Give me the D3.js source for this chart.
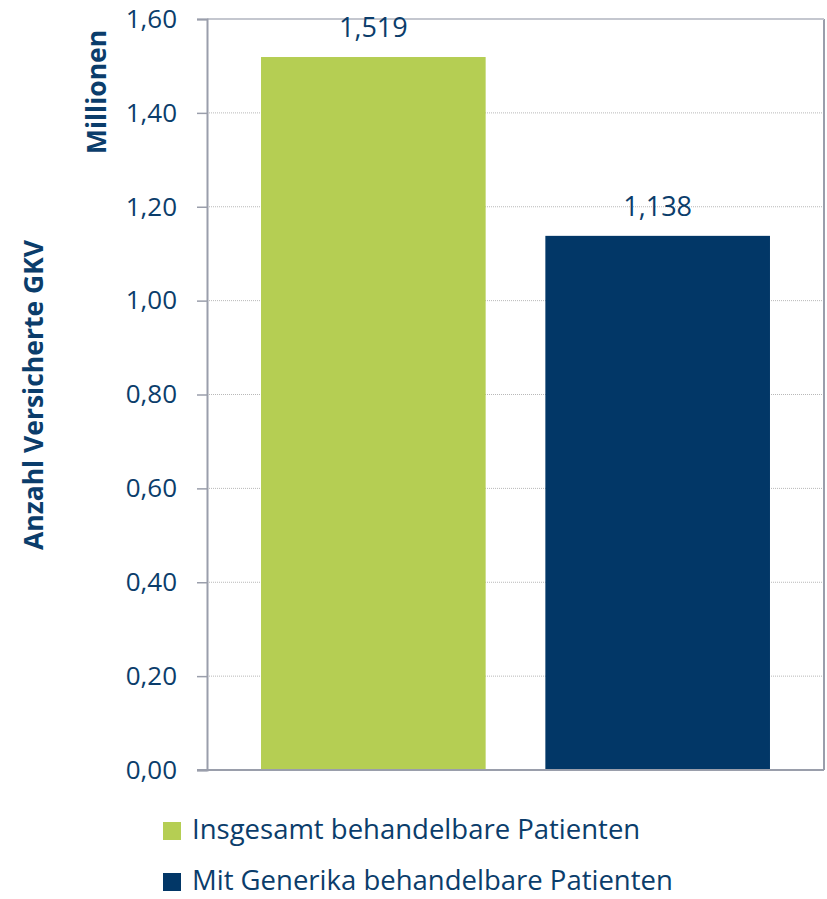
<!DOCTYPE html>
<html><head><meta charset="utf-8">
<script src="https://cdn.jsdelivr.net/npm/d3@7"></script>
<style>body{margin:0;background:#fff}svg{display:block}</style>
</head><body>
<script>
const categories = ["Insgesamt behandelbare Patienten", "Mit Generika behandelbare Patienten"];
const values = [1.519, 1.138];
const valueLabels = ["1,519", "1,138"];
const colors = ["#b5ce53", "#023767"];
const yTicks = [0, 0.2, 0.4, 0.6, 0.8, 1.0, 1.2, 1.4, 1.6];
const yTitle = "Anzahl Versicherte GKV";
const yUnit = "Millionen";

(function () {
const W = 827, H = 899;
const font = "'Open Sans', sans-serif";
const textColor = "#0b3d6b";
const svg = d3.select("body").append("svg").attr("width", W).attr("height", H);

const pL = 207, pR = 824, pT = 19, pB = 770;
const x = d3.scaleBand().domain(categories).range([pL, pR]).paddingInner(0.21).paddingOuter(0.19);
const y = d3.scaleLinear().domain([0, 1.6]).range([pB, pT]);

// gridlines
svg.append("g").selectAll("line").data(yTicks.filter(d => d > 0)).join("line")
  .attr("x1", pL).attr("x2", pR).attr("y1", d => y(d)).attr("y2", d => y(d))
  .attr("stroke", "#b8b8b8").attr("stroke-width", 1).attr("stroke-dasharray", "1,1");

// bars
svg.append("g").selectAll("rect").data(categories).join("rect")
  .attr("x", d => x(d)).attr("width", x.bandwidth())
  .attr("y", (d, i) => y(values[i])).attr("height", (d, i) => y(0) - y(values[i]))
  .attr("fill", (d, i) => colors[i]);

// frame
svg.append("line").attr("x1", pR).attr("x2", pR).attr("y1", pT).attr("y2", pB).attr("stroke", "#9a9eab").attr("stroke-width", 2);
svg.append("line").attr("x1", pL).attr("x2", pR).attr("y1", pT).attr("y2", pT).attr("stroke", "#c4c7cf").attr("stroke-width", 2);

// y axis
const yAxis = d3.axisLeft(y).tickValues(yTicks).tickSize(10).tickPadding(20)
  .tickFormat(d => d3.format(".2f")(d).replace(".", ","));
const gy = svg.append("g").attr("transform", `translate(${pL},0)`).call(yAxis);
gy.select(".domain").attr("stroke", "#9a9eab").attr("stroke-width", 2);
gy.selectAll(".tick line").attr("stroke", "#9a9eab").attr("stroke-width", 1.5);
gy.selectAll(".tick text").attr("font-family", font).attr("font-size", 26).attr("fill", textColor);

// x axis baseline
svg.append("line").attr("x1", pL - 10).attr("x2", pR).attr("y1", pB).attr("y2", pB).attr("stroke", "#9a9eab").attr("stroke-width", 2);

// value labels
svg.append("g").selectAll("text").data(categories).join("text")
  .attr("x", d => x(d) + x.bandwidth() / 2)
  .attr("y", (d, i) => y(values[i]) - 20)
  .attr("text-anchor", "middle").attr("font-family", font).attr("font-size", 27).attr("fill", textColor)
  .text((d, i) => valueLabels[i]);

// axis titles
svg.append("text").attr("transform", "translate(43,395) rotate(-90)").attr("text-anchor", "middle")
  .attr("font-family", font).attr("font-weight", "bold").attr("font-size", 26.5).attr("fill", textColor).text(yTitle);
svg.append("text").attr("transform", "translate(106,92) rotate(-90)").attr("text-anchor", "middle")
  .attr("font-family", font).attr("font-weight", "bold").attr("font-size", 26.5).attr("fill", textColor).text(yUnit);

// legend
const lg = svg.append("g").selectAll("g").data(categories).join("g")
  .attr("transform", (d, i) => `translate(163,${822 + i * 51})`);
lg.append("rect").attr("width", 18).attr("height", 18).attr("fill", (d, i) => colors[i]);
lg.append("text").attr("x", 29).attr("y", 17).attr("font-family", font).attr("font-size", 27.5).attr("fill", textColor).text(d => d);
})();
</script>
</body></html>
